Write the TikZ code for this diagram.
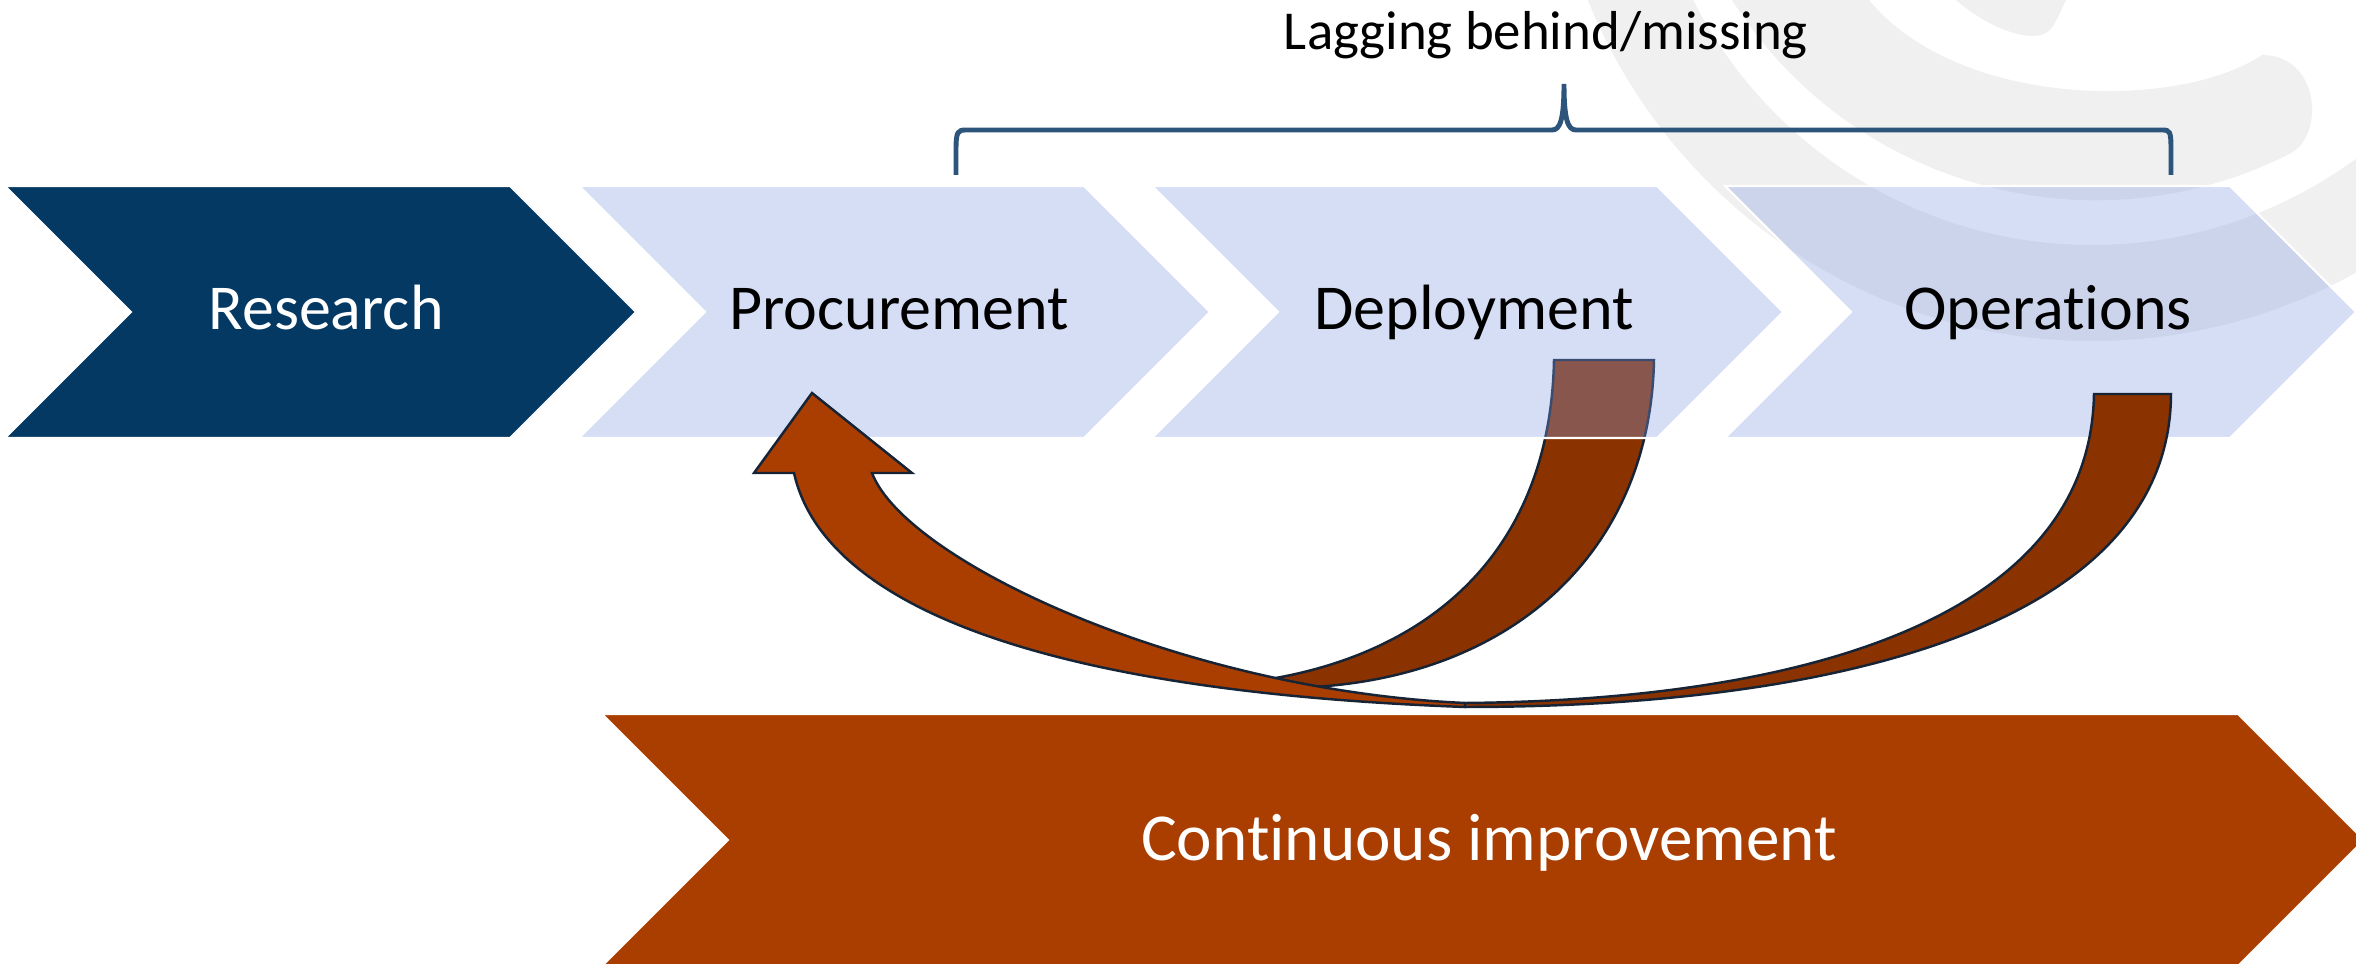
\documentclass[tikz,border=0pt]{standalone}
\usepackage{fontspec}
\setmainfont{Carlito}[Ligatures=NoCommon]
\definecolor{navy}{RGB}{4,57,99}
\definecolor{paleblue}{RGB}{132,156,228}
\definecolor{rust}{RGB}{170,61,0}
\definecolor{darkrust}{RGB}{138,51,0}
\definecolor{bracecol}{RGB}{45,84,122}
\definecolor{edgecol}{RGB}{22,36,54}
\definecolor{markgrey}{RGB}{240,240,240}
\tikzstyle{phase} = [draw=white, line width=0.6pt, fill=paleblue, fill opacity=0.333]
\tikzstyle{firstphase} = [draw=white, line width=0.6pt, fill=navy]
\tikzstyle{feedback} = [draw=edgecol, line width=0.7pt, fill=rust]
\tikzstyle{backflow} = [feedback, fill=darkrust]
\tikzstyle{phasename} = [anchor=base, inner sep=0, font=\fontsize{18.2}{22}\selectfont]
\tikzstyle{bracket} = [draw=bracecol, line width=1.4pt]
\newcommand{\chevron}[4]{\path[#1] (#2,#3) -- ++(#4-126,0) -- ++(126,126) -- ++(-126,126) -- ++(126-#4,0) -- ++(126,-126) -- cycle;}

\begin{document}
\begin{tikzpicture}[x=0.01cm, y=-0.01cm]
                \useasboundingbox (0,0) rectangle (2356,964);
                \clip (0,0) rectangle (2356,964);

                \fill[markgrey, even odd rule] (2092,-202) circle (543) (2092,-202) circle (447);
                \fill[markgrey] (1732,0) arc (147.7:63:430) .. controls (2325,135) and (2320,55) .. (2262,55) .. controls (2180,110) and (1960,110) .. (1869,0) -- cycle;
                \fill[markgrey] (1956,0) .. controls (1990,30) and (2035,45) .. (2050,30) .. controls (2058,20) and (2062,8) .. (2066,0) -- cycle;

                \chevron{firstphase}{5}{186}{631}
                \chevron{phase}{579}{186}{631}
                \chevron{phase}{1725}{186}{631}
                \chevron{draw=white, line width=0.6pt, fill=rust}{602}{714}{1762}

                \path[backflow] (1554,360) -- (1654,360) .. controls (1650,560) and (1500,690) .. (1275,688) -- (1250,682) .. controls (1420,660) and (1550,560) .. (1554,360) -- cycle;
                \path[backflow] (2094,394) -- (2171,394) .. controls (2170,620) and (1850,707) .. (1465,707) -- (1465,703) .. controls (1800,700) and (2090,620) .. (2094,394) -- cycle;
                \path[feedback] (1465,707) .. controls (1000,690) and (820,590) .. (794,473) -- (754,473) -- (812,393) -- (912,473) -- (872,473) .. controls (905,560) and (1180,690) .. (1465,703) -- cycle;

                \chevron{phase}{1152}{186}{631}

                \draw[bracket] (956,175) -- (956,150) .. controls (956,131) and (958,130) .. (966,130) -- (1552,130) .. controls (1560,130) and (1564,120) .. (1564,84) .. controls (1564,120) and (1568,130) .. (1576,130) -- (2162,130) .. controls (2170,130) and (2171,131) .. (2171,150) -- (2171,175);

                \node [phasename, text=white] (research) at (326,330) {Research};
                \node [phasename] (procurement) at (899,330) {Procurement};
                \node [phasename] (deployment) at (1474,330) {Deployment};
                \node [phasename] (operations) at (2048,330) {Operations};
                \node [phasename, text=white, font=\fontsize{19.1}{23}\selectfont] (improvement) at (1489,860) {Continuous improvement};
                \node [anchor=base, inner sep=0, font=\fontsize{15.6}{19}\selectfont] (lagging) at (1546,50) {Lagging behind/missing};
            \end{tikzpicture}
\end{document}
